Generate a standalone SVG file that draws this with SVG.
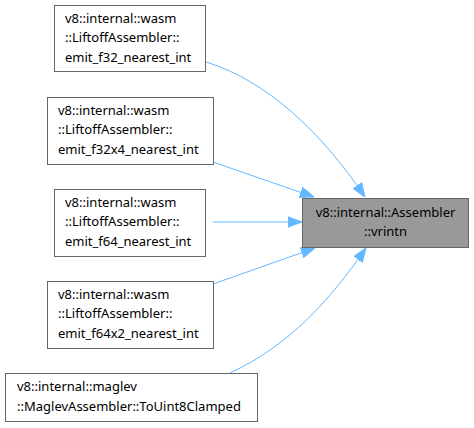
<svg xmlns="http://www.w3.org/2000/svg" width="474" height="428" viewBox="0 0 474 428">
<defs>
<style>
.n rect{fill:#fff;stroke:#666;stroke-width:1}
.t rect{fill:#999;stroke:#666;stroke-width:1}
text{font-family:"Noto Sans","Open Sans",sans-serif;font-size:13px;fill:#000}
.e path{fill:none;stroke:#63b8ff;stroke-width:1}
</style>
<marker id="a" viewBox="0 0 14 12" refX="14" refY="6" markerWidth="14" markerHeight="12" markerUnits="userSpaceOnUse" orient="auto">
<path d="M0,0.8 L14,6 L0,11.2 Z" fill="#63b8ff" stroke="#63b8ff" stroke-width="1"/>
</marker>
</defs>
<rect width="474" height="428" fill="#fff"/>
<g class="e">
<path d="M206,62 C265,80 320,130 365,197" marker-end="url(#a)"/>
<path d="M213,162 L314,197" marker-end="url(#a)"/>
<path d="M213,222 L302,222" marker-end="url(#a)"/>
<path d="M213,284 L315,248" marker-end="url(#a)"/>
<path d="M230,373 C290,345 330,300 366,248" marker-end="url(#a)"/>
</g>
<g id="n1" class="n"><rect x="54.5" y="5.5" width="151" height="66"/>
<text x="65" y="23">v8::internal::wasm</text><text x="65" y="42">::LiftoffAssembler::</text><text x="65" y="62">emit_f32_nearest_int</text></g>
<g id="n2" class="n"><rect x="47.5" y="97.5" width="166" height="67"/>
<text x="58" y="115">v8::internal::wasm</text><text x="58" y="134">::LiftoffAssembler::</text><text x="58" y="154">emit_f32x4_nearest_int</text></g>
<g id="n3" class="n"><rect x="54.5" y="189.5" width="151" height="67"/>
<text x="65" y="207">v8::internal::wasm</text><text x="65" y="226">::LiftoffAssembler::</text><text x="65" y="246">emit_f64_nearest_int</text></g>
<g id="n4" class="n"><rect x="47.5" y="281.5" width="166" height="67"/>
<text x="58" y="299">v8::internal::wasm</text><text x="58" y="318">::LiftoffAssembler::</text><text x="58" y="338">emit_f64x2_nearest_int</text></g>
<g id="n5" class="n"><rect x="5.5" y="373.5" width="252" height="48"/>
<text x="17" y="391">v8::internal::maglev</text><text x="17" y="411">::MaglevAssembler::ToUint8Clamped</text></g>
<g id="t" class="t"><rect x="302.5" y="198.5" width="166" height="49"/>
<text x="385.5" y="217" text-anchor="middle">v8::internal::Assembler</text><text x="385.5" y="236" text-anchor="middle">::vrintn</text></g>
</svg>
